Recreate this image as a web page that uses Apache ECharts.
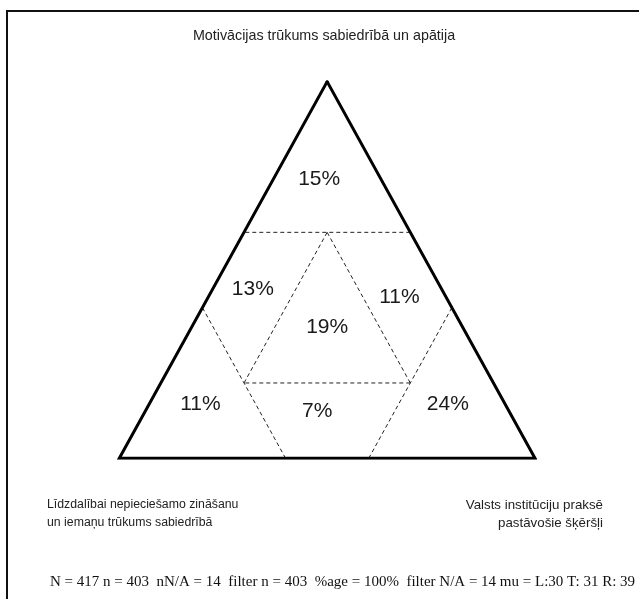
<!DOCTYPE html>
<html><head><meta charset="utf-8">
<script src="https://cdn.jsdelivr.net/npm/echarts@6/dist/echarts.min.js"></script>
<style>html,body{margin:0;padding:0;background:#fff}#c{width:639px;height:599px}</style>
</head><body><div id="c"></div>
<script>
// ---- data ----
const topLabel = 'Motivācijas trūkums sabiedrībā un apātija';
const leftLabel = ['Līdzdalībai nepieciešamo zināšanu', 'un iemaņu trūkums sabiedrībā'];
const rightLabel = ['Valsts institūciju praksē', 'pastāvošie šķēršļi'];
const regionNames = ['top', 'leftMid', 'rightMid', 'center', 'bottomLeft', 'bottomMid', 'bottomRight'];
const regionShares = [15, 13, 11, 19, 11, 7, 24];
const cutLevels = [0.2, 0.6];
const footerText = 'N = 417 n = 403  nN/A = 14  filter n = 403  %age = 100%  filter N/A = 14 mu = L:30 T: 31 R: 39';

// ---- layout (pixel nudges of the percentage labels from the cell centroid) ----
const labelNudges = [[-8, -3], [-5, -2], [3, 6], [0, -6], [-2, -4], [-10, -5], [-4, -4]];

// ---- geometry helpers (barycentric [T, L, R]) ----
const LO = cutLevels[0], HI = cutLevels[1];
const regionRules = {
  top: [[0, 1, HI]],
  bottomLeft: [[1, 1, HI]],
  bottomRight: [[2, 1, HI]],
  center: [[0, 1, LO], [1, 1, LO], [2, 1, LO]],
  leftMid: [[2, -1, LO], [0, -1, HI], [1, -1, HI]],
  rightMid: [[1, -1, LO], [0, -1, HI], [2, -1, HI]],
  bottomMid: [[0, -1, LO], [1, -1, HI], [2, -1, HI]]
};
function clip(poly, rule) {
  const [k, s, lv] = rule, out = [];
  const f = v => s * (v[k] - lv);
  for (let i = 0; i < poly.length; i++) {
    const a = poly[i], b = poly[(i + 1) % poly.length];
    const fa = f(a), fb = f(b);
    if (fa >= 0) out.push(a);
    if ((fa >= 0) !== (fb >= 0)) {
      const t = fa / (fa - fb);
      out.push([0, 1, 2].map(j => a[j] + t * (b[j] - a[j])));
    }
  }
  return out;
}
const toXY = v => [v[2] + v[0] / 2, v[0]];
function regionPolygon(name) {
  let poly = [[1, 0, 0], [0, 1, 0], [0, 0, 1]];
  regionRules[name].forEach(r => { poly = clip(poly, r); });
  return poly.map(toXY);
}
function centroid(pts) {
  let A = 0, cx = 0, cy = 0;
  for (let i = 0; i < pts.length; i++) {
    const [x0, y0] = pts[i], [x1, y1] = pts[(i + 1) % pts.length];
    const c = x0 * y1 - x1 * y0;
    A += c; cx += (x0 + x1) * c; cy += (y0 + y1) * c;
  }
  return [cx / (3 * A), cy / (3 * A)];
}
const cutSegments = [];
[0, 1, 2].forEach(k => {
  cutLevels.forEach(lv => {
    const o = [0, 1, 2].filter(j => j !== k);
    const lo = Math.max(0, (1 - lv) - HI), hi = Math.min(HI, 1 - lv);
    const p1 = [0, 0, 0], p2 = [0, 0, 0];
    p1[k] = lv; p1[o[0]] = lo; p1[o[1]] = 1 - lv - lo;
    p2[k] = lv; p2[o[0]] = hi; p2[o[1]] = 1 - lv - hi;
    cutSegments.push([toXY(p1), toXY(p2)]);
  });
});
const outline = [[1, 0, 0], [0, 0, 1], [0, 1, 0], [1, 0, 0]].map(toXY);

const chart = echarts.init(document.getElementById('c'), null, { renderer: 'canvas' });
const sans = '"Liberation Sans", Arial, Helvetica, sans-serif';
chart.setOption({
  animation: false,
  backgroundColor: '#fff',
  grid: { left: 119.3, right: 104, top: 81.7, bottom: 140.7 },
  xAxis: { type: 'value', min: 0, max: 1, show: false },
  yAxis: { type: 'value', min: 0, max: 1, show: false },
  series: [
    {
      type: 'custom', clip: false, z: 2,
      data: regionNames.map((n, i) => [i, regionShares[i]]),
      renderItem: function (params, api) {
        const i = api.value(0);
        const pts = regionPolygon(regionNames[i]);
        const c = api.coord(centroid(pts));
        const d = labelNudges[i];
        return {
          type: 'group', children: [
            { type: 'polygon', shape: { points: pts.map(p => api.coord(p)) }, style: { fill: 'rgba(255,255,255,0)' } },
            { type: 'text', x: c[0] + d[0], y: c[1] + d[1], style: { text: api.value(1) + '%', fontSize: 21, fontFamily: sans, fill: '#1a1a1a', align: 'center', verticalAlign: 'middle' } }
          ]
        };
      }
    },
    {
      type: 'custom', clip: false, z: 3,
      data: cutSegments.map((s, i) => [i]),
      renderItem: function (params, api) {
        const s = cutSegments[api.value(0)];
        const a = api.coord(s[0]), b = api.coord(s[1]);
        return { type: 'line', shape: { x1: a[0], y1: a[1], x2: b[0], y2: b[1] }, style: { stroke: '#222', lineWidth: 1, lineDash: [4, 3] } };
      }
    },
    {
      type: 'line', z: 4, data: outline, symbol: 'none', silent: true,
      lineStyle: { color: '#000', width: 3, join: 'miter', cap: 'square' }
    }
  ],
  graphic: [
    { type: 'rect', shape: { x: 7, y: 11, width: 700, height: 700 }, style: { fill: 'none', stroke: '#111', lineWidth: 2 }, z: 0 },
    { type: 'text', x: 324, y: 36, style: { text: topLabel, fontSize: 14.3, fontFamily: sans, fill: '#222', align: 'center', verticalAlign: 'middle' } },
    { type: 'text', x: 47, y: 505, style: { text: leftLabel[0], fontSize: 12.3, fontFamily: sans, fill: '#222', align: 'left', verticalAlign: 'middle' } },
    { type: 'text', x: 47, y: 523, style: { text: leftLabel[1], fontSize: 12.3, fontFamily: sans, fill: '#222', align: 'left', verticalAlign: 'middle' } },
    { type: 'text', x: 603, y: 505, style: { text: rightLabel[0], fontSize: 13.3, fontFamily: sans, fill: '#222', align: 'right', verticalAlign: 'middle' } },
    { type: 'text', x: 603, y: 523, style: { text: rightLabel[1], fontSize: 13.3, fontFamily: sans, fill: '#222', align: 'right', verticalAlign: 'middle' } },
    { type: 'text', x: 50, y: 582, style: { text: footerText, fontSize: 15, fontFamily: '"Liberation Serif", "Times New Roman", serif', fill: '#111', align: 'left', verticalAlign: 'middle' } }
  ]
});
</script>
</body></html>
